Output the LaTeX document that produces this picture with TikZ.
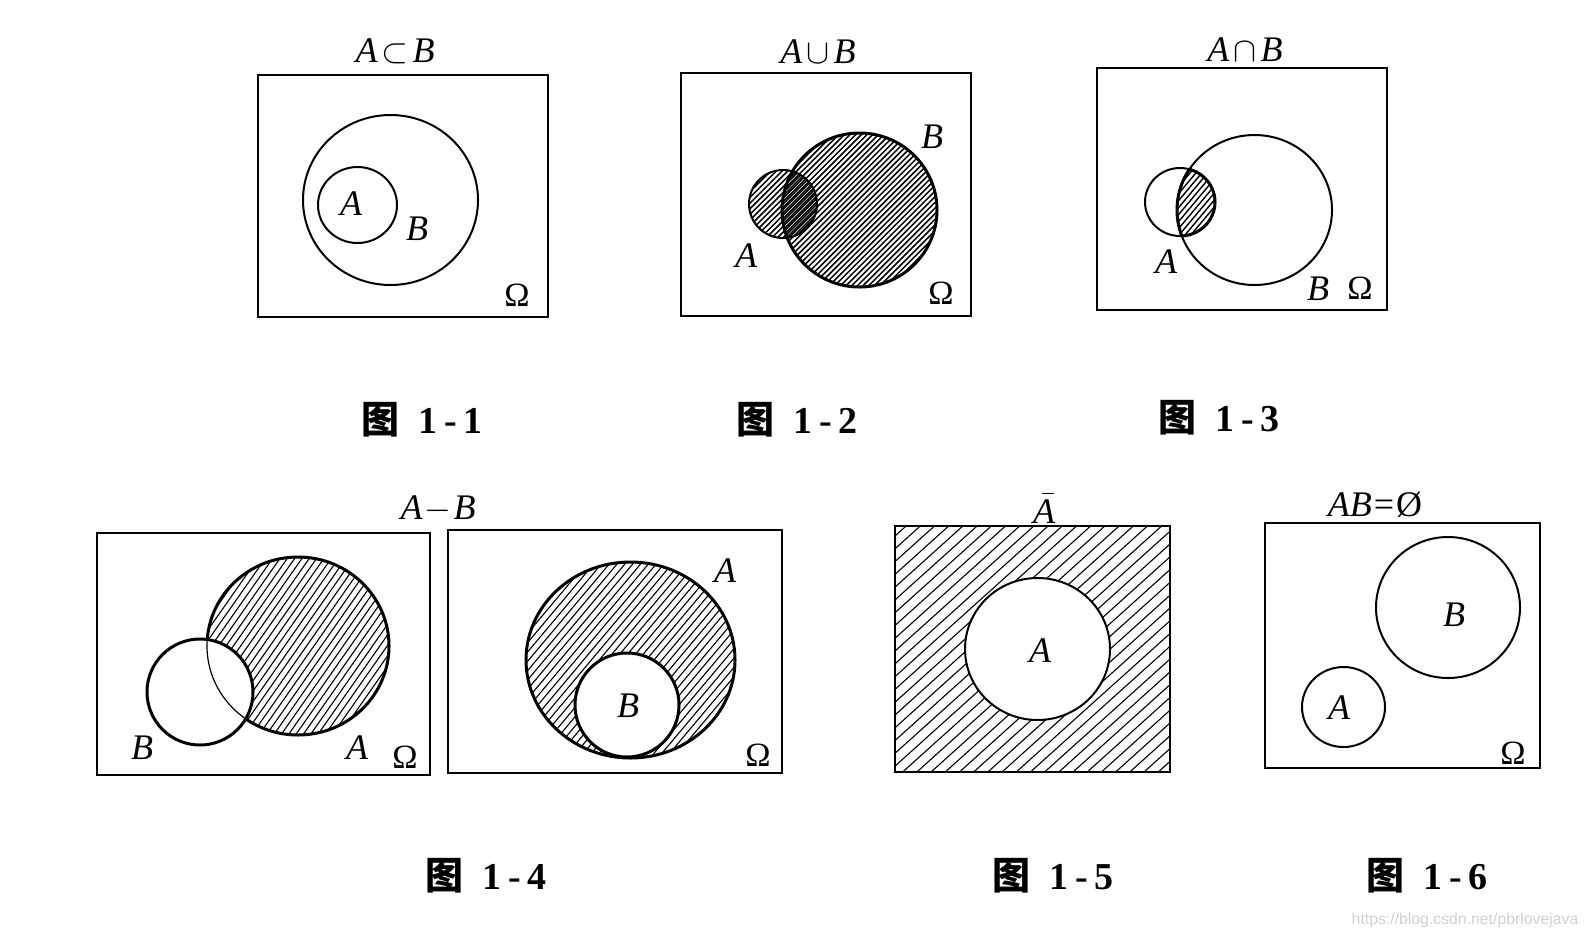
\documentclass[tikz,border=0pt]{standalone}
\usepackage{fontspec}
\usepackage{amssymb}
\setmainfont{Liberation Serif}
\newfontfamily\cjk{Noto Sans CJK SC}
\newfontfamily\wmfont{Liberation Sans}
% hatching: centre x, centre y, half size, angle, spacing, line width
\newcommand\hatchfill[6]{%
  \begin{scope}[shift={(#1,#2)},rotate=#4]
    \pgfmathtruncatemacro\hatchN{2*#3/#5}
    \foreach \hk in {0,...,\hatchN}
      \draw[line width=#6] (-#3,{-#3+\hk*#5}) -- (#3,{-#3+\hk*#5});
  \end{scope}}
\tikzset{
  frame/.style={draw, line width=1.3pt},
  ring/.style={draw, line width=1pt},
  ringthick/.style={draw, line width=1.5pt},
  ringthin/.style={draw, line width=0.6pt},
  lbl/.style={inner sep=0pt, font=\fontsize{18}{18}\selectfont\itshape},
  omg/.style={inner sep=0pt, font=\fontsize{17}{17}\selectfont},
  ttl/.style={inner sep=0pt, font=\fontsize{18}{18}\selectfont},
  capt/.style={inner sep=0pt, font=\fontsize{19}{19}\selectfont\bfseries},
}
\newcommand\figcap[1]{{\cjk\bfseries 图}\kern 9.5pt 1\kern 3.5pt-\kern 3.5pt#1}
\begin{document}
\begin{tikzpicture}[x=0.5pt,y=-0.5pt]
\fill[white] (0,0) rectangle (1588,938);
\useasboundingbox (0,0) rectangle (1588,938);

% ---------- Fig 1-1 ----------
\draw[frame] (258,75) rectangle (548,317);
\draw[ring] (390.5,200) ellipse [x radius=87.5, y radius=85];
\draw[ring] (357.5,205) ellipse [x radius=39.5, y radius=38];
\node[lbl] (a11) at (351,204) {A};
\node[lbl] (b11) at (417,229) {B};
\node[omg] (o11) at (517,295) {Ω};
\node[ttl] (t11) at (395,51) {\textit{A}\kern2pt$\subset$\kern2pt\textit{B}};
\node[capt] (c11) at (422,420) {\figcap{1}};

% ---------- Fig 1-2 ----------
\draw[frame] (681,73) rectangle (971,316);
\begin{scope}
  \clip (783,204) circle [radius=34];
  \hatchfill{783}{204}{36}{45}{4}{0.75pt}
\end{scope}
\begin{scope}
  \clip (859.5,210) ellipse [x radius=77.5, y radius=77];
  \hatchfill{859.5}{210}{80}{45}{4}{0.75pt}
\end{scope}
\draw[ring] (783,204) circle [radius=34];
\draw[ringthick] (859.5,210) ellipse [x radius=77.5, y radius=77];
\node[lbl] (b12) at (932,137) {B};
\node[lbl] (a12) at (746,256) {A};
\node[omg] (o12) at (941,293) {Ω};
\node[ttl] (t12) at (818,52) {\textit{A}\kern2pt$\cup$\kern2pt\textit{B}};
\node[capt] (c12) at (797,420) {\figcap{2}};

% ---------- Fig 1-3 ----------
\draw[frame] (1097,68) rectangle (1387,310);
\begin{scope}
  \clip (1180,202) ellipse [x radius=35, y radius=34];
  \clip (1254.5,210) ellipse [x radius=77.5, y radius=75];
  \hatchfill{1180}{202}{38}{50}{4.5}{0.7pt}
\end{scope}
\draw[ring] (1180,202) ellipse [x radius=35, y radius=34];
\draw[ring] (1254.5,210) ellipse [x radius=77.5, y radius=75];
\begin{scope}
  \clip (1180,202) ellipse [x radius=35, y radius=34];
  \draw[ringthick] (1254.5,210) ellipse [x radius=77.5, y radius=75];
\end{scope}
\begin{scope}
  \clip (1254.5,210) ellipse [x radius=77.5, y radius=75];
  \draw[ringthick] (1180,202) ellipse [x radius=35, y radius=34];
\end{scope}
\node[lbl] (a13) at (1166,262) {A};
\node[lbl] (b13) at (1318,289) {B};
\node[omg] (o13) at (1360,288) {Ω};
\node[ttl] (t13) at (1245,50) {\textit{A}\kern2pt$\cap$\kern2pt\textit{B}};
\node[capt] (c13) at (1219,418) {\figcap{3}};

% ---------- Fig 1-4 (left) ----------
\draw[frame] (97,533) rectangle (430,775);
\begin{scope}
  \clip (298,646) ellipse [x radius=91, y radius=89];
  \hatchfill{298}{646}{95}{55}{6}{0.55pt}
\end{scope}
\fill[white] (200,692) circle [radius=53];
\draw[ringthin] (298,646) ellipse [x radius=91, y radius=89];
\begin{scope}[even odd rule]
  \clip (0,0) rectangle (1588,938) (200,692) circle [radius=53];
  \draw[ringthick] (298,646) ellipse [x radius=91, y radius=89];
\end{scope}
\draw[ringthick] (200,692) circle [radius=53];
\node[lbl] (b14) at (142,748) {B};
\node[lbl] (a14) at (357,748) {A};
\node[omg] (o14) at (405,757) {Ω};

% ---------- Fig 1-4 (right) ----------
\draw[frame] (448,530) rectangle (782,773);
\begin{scope}
  \clip (630.5,660) ellipse [x radius=104.5, y radius=98];
  \hatchfill{630.5}{660}{108}{50}{6}{0.55pt}
\end{scope}
\fill[white] (627,705) circle [radius=52];
\draw[ringthick] (630.5,660) ellipse [x radius=104.5, y radius=98];
\draw[ringthick] (627,705) circle [radius=52];
\node[lbl] (a14r) at (725,571) {A};
\node[lbl] (b14r) at (628,706) {B};
\node[omg] (o14r) at (758,755) {Ω};
\node[ttl] (t14) at (438,509) {\textit{A}\kern1pt$-$\kern1pt\textit{B}};
\node[capt] (c14) at (486,876) {\figcap{4}};

% ---------- Fig 1-5 ----------
\begin{scope}
  \clip (895,526) rectangle (1170,772);
  \hatchfill{1032.5}{649}{195}{42}{9.5}{0.55pt}
\end{scope}
\fill[white] (1037.5,649) ellipse [x radius=72.5, y radius=71];
\draw[ring] (1037.5,649) ellipse [x radius=72.5, y radius=71];
\draw[frame] (895,526) rectangle (1170,772);
\node[lbl] (a15) at (1040,651) {A};
\node[lbl] (t15) at (1044,512) {A};
\draw[line width=0.6pt] ([xshift=-1pt,yshift=3pt]t15.north) -- ([xshift=5pt,yshift=3pt]t15.north);
\node[capt] (c15) at (1053,876) {\figcap{5}};

% ---------- Fig 1-6 ----------
\draw[frame] (1265,523) rectangle (1540,768);
\draw[ring] (1448,607.5) ellipse [x radius=72, y radius=70.5];
\draw[ring] (1343.5,707) ellipse [x radius=41.5, y radius=40];
\node[lbl] (b16) at (1454,615) {B};
\node[lbl] (a16) at (1339,708) {A};
\node[omg] (o16) at (1513,753) {Ω};
\node[ttl] (t16) at (1375,505) {\textit{AB}\kern1pt=\kern1pt\textup{Ø}};
\node[capt] (c16) at (1427,876) {\figcap{6}};

% watermark
\node[inner sep=0pt, text=black!18, font=\wmfont\fontsize{7.9}{8}\selectfont] (wm) at (1465,920) {https://blog.csdn.net/pbrlovejava};
\end{tikzpicture}
\end{document}
